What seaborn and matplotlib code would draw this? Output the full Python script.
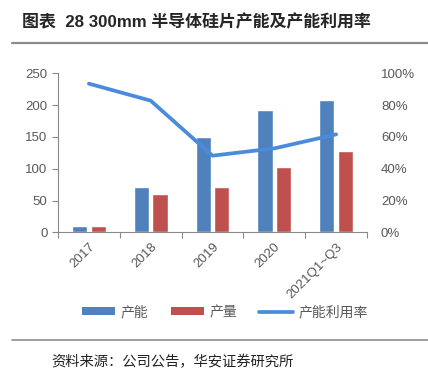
import matplotlib
matplotlib.use("Agg")
import matplotlib.pyplot as plt
import seaborn as sns
import pandas as pd
from matplotlib.patches import Patch
from matplotlib.lines import Line2D
from matplotlib.ticker import PercentFormatter

# 数据
years = ['2017', '2018', '2019', '2020', '2021Q1~Q3']
capacity = [10, 72, 150, 193, 208]      # 产能
output = [9.5, 60, 71, 103, 128]        # 产量
utilization = [93.5, 82.8, 48.2, 52.8, 61.6]  # 产能利用率 (%)

sns.set_style('white')
plt.rcParams['font.family'] = ['Liberation Sans', 'Noto Sans CJK SC']

df = pd.DataFrame({
    'year': years * 2,
    'value': capacity + output,
    'kind': ['产能'] * len(years) + ['产量'] * len(years),
})

blue = '#4F81BD'
red = '#C0504D'
line_blue = '#4A8BDB'
gray = '#595959'

fig = plt.figure(figsize=(4.28, 3.75), dpi=100)
ax = fig.add_axes([0.1355, 0.3805, 0.722, 0.424])

sns.barplot(data=df, x='year', y='value', hue='kind', order=years,
            palette=[blue, red], width=0.6, gap=0.18, ax=ax, legend=False,
            saturation=1)

ax2 = ax.twinx()
sns.lineplot(x=list(range(len(years))), y=utilization, ax=ax2, color=line_blue,
             linewidth=2.7, sort=False)

ax.set_ylim(0, 250)
ax.set_yticks(range(0, 251, 50))
ax2.set_ylim(0, 100)
ax2.set_yticks(range(0, 101, 20))
ax2.yaxis.set_major_formatter(PercentFormatter(decimals=0))
ax.set_xlim(-0.5, len(years) - 0.5)

ax.set_xlabel('')
ax.set_ylabel('')
ax2.set_ylabel('')

for a in (ax, ax2):
    for s in ['top', 'right']:
        a.spines[s].set_visible(False)
ax2.spines['left'].set_visible(False)
ax2.spines['bottom'].set_visible(False)
ax.spines['left'].set_color('#898989')
ax.spines['bottom'].set_color('#898989')

ax.tick_params(axis='y', labelsize=9.5, colors=gray, length=4, width=0.8,
               direction='out', left=True)
ax.tick_params(axis='y', color='#898989')
ax2.tick_params(axis='y', labelsize=9.5, colors=gray, length=0, pad=10)

# x 轴刻度放在类目分界处
ax.set_xticks(range(len(years)))
ax.set_xticklabels(years, rotation=45, ha='right', rotation_mode='anchor',
                   fontsize=9.5, color=gray)
ax.tick_params(axis='x', length=0, pad=6)
ax.set_xticks([i - 0.5 for i in range(len(years) + 1)], minor=True)
ax.tick_params(axis='x', which='minor', length=4, width=0.8, color='#898989',
               bottom=True)

handles = [
    Patch(facecolor=blue, edgecolor='none'),
    Patch(facecolor=red, edgecolor='none'),
    Line2D([0], [0], color=line_blue, linewidth=2.7),
]
fig.legend(handles, ['产能', '产量', '产能利用率'], loc='center',
           bbox_to_anchor=(0.525, 0.168), ncol=3, frameon=False, fontsize=10,
           handlelength=2.4, handleheight=0.5, columnspacing=1.6,
           handletextpad=0.4, labelcolor=gray)

fig.text(0.052, 0.942, '图表  28 300mm 半导体硅片产能及产能利用率',
         fontsize=12.2, fontweight='bold', va='center', ha='left',
         family=['Liberation Sans', 'Noto Sans CJK SC'])
fig.add_artist(Line2D([0.028, 1.0], [1 - 42.7 / 375] * 2, color='#8C8C8C',
                      linewidth=1.6))
fig.add_artist(Line2D([0.028, 1.0], [1 - 340 / 375] * 2, color='#8C8C8C',
                      linewidth=1.2))
fig.text(0.12, 1 - 362 / 375, '资料来源：公司公告，华安证券研究所',
         fontsize=10.3, va='center', ha='left', color='#222222')

fig.savefig('out.png', dpi=100)
